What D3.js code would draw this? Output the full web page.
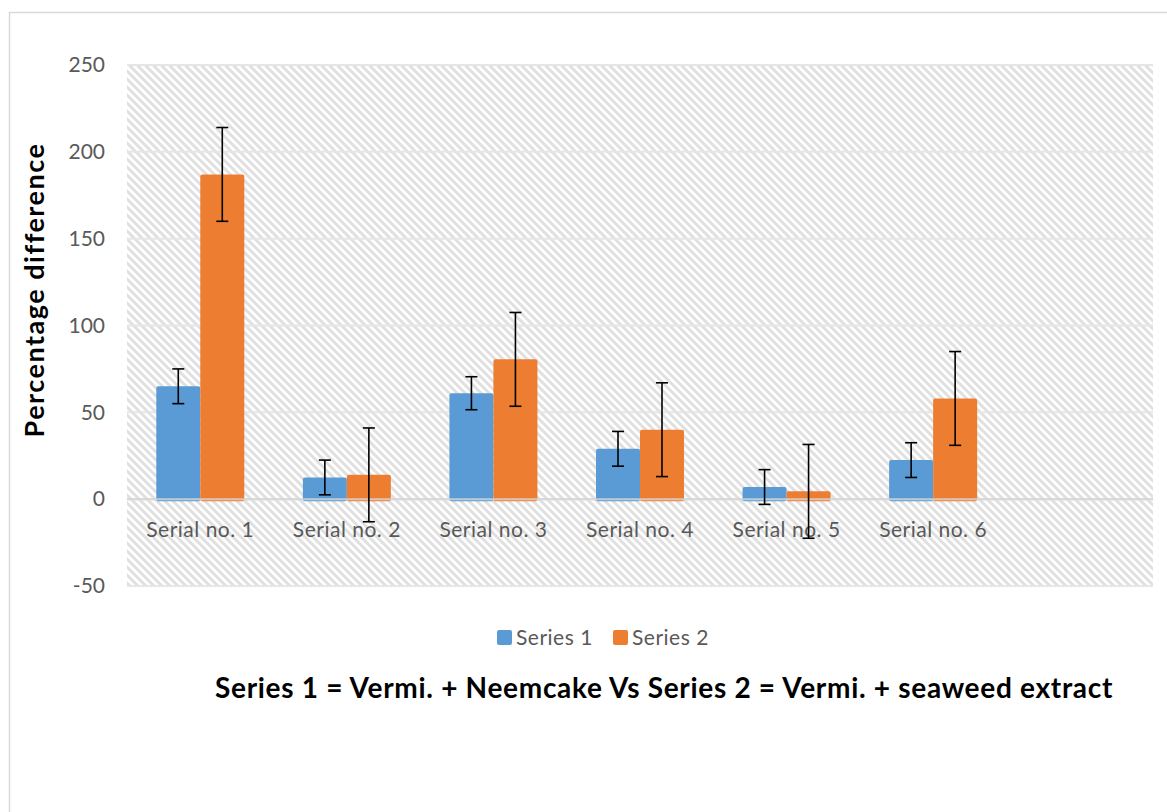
<!DOCTYPE html>
<html>
<head>
<meta charset="utf-8">
<script src="https://cdn.jsdelivr.net/npm/d3@7"></script>
<style>
  body { margin: 0; background: #fff; }
  text { font-family: Lato, "Open Sans", sans-serif; }
</style>
</head>
<body>
<div id="chart"></div>
<script>
// data
const categories = ["Serial no. 1", "Serial no. 2", "Serial no. 3", "Serial no. 4", "Serial no. 5", "Serial no. 6", ""];
const series1 = [65, 12.5, 61, 29, 7, 22.5];
const series2 = [187, 14, 80.5, 40, 4.5, 58];
const err1 = [10, 10, 9.5, 10, 10, 10];
const err2 = [27, 27, 27, 27, 27, 27];
const seriesNames = ["Series 1", "Series 2"];
const colors = ["#5B9BD5", "#ED7D31"];
const yTicks = [-50, 0, 50, 100, 150, 200, 250];

const W = 1167, H = 812;
const svg = d3.select("#chart").append("svg").attr("width", W).attr("height", H);

// hatch pattern for plot area
const defs = svg.append("defs");
const pat = defs.append("pattern")
    .attr("id", "hatch")
    .attr("patternUnits", "userSpaceOnUse")
    .attr("width", 8).attr("height", 8);
pat.append("path")
    .attr("d", "M-2,-2 L10,10 M-2,6 L2,10 M6,-2 L10,2")
    .style("stroke", "#e0e0e0")
    .style("stroke-width", 3);

// outer chart border (runs off the page on right and bottom)
svg.append("rect")
    .attr("x", 9.5).attr("y", 12.5)
    .attr("width", 1200).attr("height", 850)
    .style("fill", "none")
    .style("stroke", "#d9d9d9")
    .style("stroke-width", 1.5);

const plot = {left: 127, right: 1153, top: 65, bottom: 586};

const x = d3.scaleBand().domain(categories).range([plot.left, plot.right]);
const y = d3.scaleLinear().domain([-50, 250]).range([plot.bottom, plot.top]);

svg.append("rect")
    .attr("x", plot.left).attr("y", plot.top)
    .attr("width", plot.right - plot.left).attr("height", plot.bottom - plot.top)
    .style("fill", "url(#hatch)");

// gridlines
svg.append("g").selectAll("line")
    .data(yTicks)
    .join("line")
    .attr("x1", plot.left).attr("x2", plot.right)
    .attr("y1", d => y(d)).attr("y2", d => y(d))
    .style("stroke", d => d === 0 ? "#d0d0d0" : "#e6e6e6")
    .style("stroke-width", 2);

// y axis labels
const yAxis = d3.axisLeft(y).tickValues(yTicks).tickSize(0).tickPadding(22)
    .tickFormat(d => String(d));
const gy = svg.append("g").attr("transform", `translate(${plot.left},0)`).call(yAxis);
gy.select(".domain").remove();
gy.selectAll("text")
    .style("font-size", "21px")
    .style("fill", "#595959")
    .style("font-family", "Lato, sans-serif");

// category labels under the zero line
svg.append("g").selectAll("text")
    .data(categories)
    .join("text")
    .attr("x", d => x(d) + x.bandwidth() / 2)
    .attr("y", y(0) + 38)
    .attr("text-anchor", "middle")
    .style("font-size", "21px")
    .style("letter-spacing", "0.5px")
    .style("fill", "#595959")
    .text(d => d);

// bars
const barW = 44;
const rows = [];
series1.forEach((v, i) => {
    rows.push({cat: categories[i], s: 0, v: v, e: err1[i]});
    rows.push({cat: categories[i], s: 1, v: series2[i], e: err2[i]});
});
const bx = d => x(d.cat) + x.bandwidth() / 2 - barW + d.s * barW;

svg.append("g").selectAll("rect")
    .data(rows)
    .join("rect")
    .attr("x", bx)
    .attr("y", d => y(Math.max(d.v, 0)))
    .attr("width", barW)
    .attr("height", d => Math.abs(y(d.v) - y(0)) + 2)
    .attr("rx", 2)
    .style("fill", d => colors[d.s]);

// zero line drawn over bar bottoms
svg.append("line")
    .attr("x1", plot.left).attr("x2", plot.right)
    .attr("y1", y(0)).attr("y2", y(0))
    .style("stroke", "#d9d9d9")
    .style("stroke-opacity", 0.8)
    .style("stroke-width", 2);

// error bars
const eb = svg.append("g").selectAll("g")
    .data(rows)
    .join("g")
    .style("stroke", "#000")
    .style("stroke-width", 1.6);
eb.append("line")
    .attr("x1", d => bx(d) + barW / 2).attr("x2", d => bx(d) + barW / 2)
    .attr("y1", d => y(d.v + d.e)).attr("y2", d => y(d.v - d.e));
eb.append("line")
    .attr("x1", d => bx(d) + barW / 2 - 6).attr("x2", d => bx(d) + barW / 2 + 6)
    .attr("y1", d => y(d.v + d.e)).attr("y2", d => y(d.v + d.e));
eb.append("line")
    .attr("x1", d => bx(d) + barW / 2 - 6).attr("x2", d => bx(d) + barW / 2 + 6)
    .attr("y1", d => y(d.v - d.e)).attr("y2", d => y(d.v - d.e));

// y axis title
svg.append("text")
    .attr("transform", "translate(44,290) rotate(-90)")
    .attr("text-anchor", "middle")
    .style("font-size", "27px")
    .style("letter-spacing", "1.5px")
    .style("font-weight", "bold")
    .style("fill", "#000")
    .text("Percentage difference");

// legend
const legend = svg.append("g").attr("transform", "translate(497,630)");
const li = legend.selectAll("g")
    .data(seriesNames)
    .join("g")
    .attr("transform", (d, i) => `translate(${i * 116},0)`);
li.append("rect")
    .attr("width", 15).attr("height", 15).attr("rx", 2)
    .style("fill", (d, i) => colors[i]);
li.append("text")
    .attr("x", 19).attr("y", 15)
    .style("font-size", "21px")
    .style("letter-spacing", "0.5px")
    .style("fill", "#595959")
    .text(d => d);

// footnote
svg.append("text")
    .attr("x", 215).attr("y", 698)
    .style("font-size", "28px")
    .style("letter-spacing", "0.7px")
    .style("font-weight", "bold")
    .style("fill", "#000")
    .text("Series 1 = Vermi. + Neemcake Vs Series 2 = Vermi. + seaweed extract");
</script>
</body>
</html>
